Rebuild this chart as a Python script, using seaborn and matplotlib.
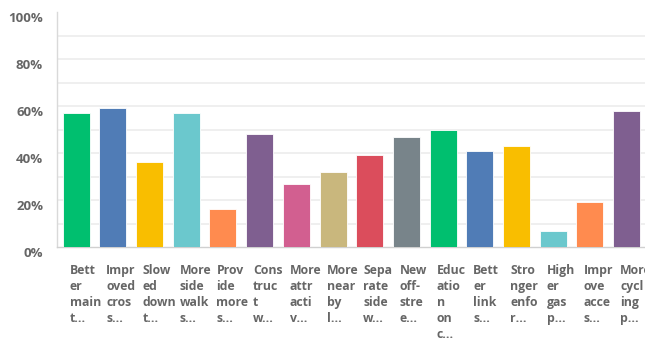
import matplotlib
matplotlib.use("Agg")
import matplotlib.pyplot as plt
import matplotlib.transforms as mtransforms
import seaborn as sns
import pandas as pd

categories = [
    "Better maint", "Improved cross", "Slowed down t", "More sidewalks",
    "Provide more s", "Construct w", "More attractiv", "More nearby l",
    "Separate side w", "New off-street", "Education on c", "Better links",
    "Stronger enfor", "Higher gas p", "Improve access", "More cycling p",
]
tick_labels = [
    "Bett\ner\nmain\nt...", "Impr\noved\ncros\ns...", "Slow\ned\ndown\nt...",
    "More\nside\nwalk\ns...", "Prov\nide\nmore\ns...", "Cons\ntruc\nt\nw...",
    "More\nattr\nacti\nv...", "More\nnear\nby\nl...", "Sepa\nrate\nside\nw...",
    "New\noff-\nstre\ne...", "Educ\natio\nn\non\nc...", "Bett\ner\nlink\ns...",
    "Stro\nnger\nenfo\nr...", "High\ner\ngas\np...", "Impr\nove\nacce\ns...",
    "More\ncycl\ning\np...",
]
values = [57, 59, 36, 57, 16, 48, 27, 32, 39, 47, 50, 41, 43, 7, 19, 58]
colors = ["#00BF6F", "#507CB6", "#F9BE00", "#6BC8CD", "#FF8B4F", "#7F5F90",
          "#D25F90", "#C9B77D", "#DB4D5C", "#78848A", "#00BF6F", "#507CB6",
          "#F9BE00", "#6BC8CD", "#FF8B4F", "#7F5F90"]
y_ticks = [0, 20, 40, 60, 80, 100]
y_tick_labels = ["0%", "20%", "40%", "60%", "80%", "100%"]

sns.set_style("white")
plt.rcParams["font.family"] = ["Open Sans", "DejaVu Sans"]

fig = plt.figure(figsize=(6.45, 3.42), dpi=100)
ax = fig.add_axes([57 / 645, (342 - 247) / 342, 1 - 57 / 645, (247 - 12) / 342])

df = pd.DataFrame({"cat": categories, "val": values})
sns.barplot(data=df, x="cat", y="val", hue="cat", palette=colors, legend=False,
            saturation=1, width=0.735, ax=ax, edgecolor="white", linewidth=0.6,
            zorder=3)

ax.set_xlim(-0.52, 15.5)
ax.set_ylim(0, 100)
ax.set_yticks(y_ticks)
ax.set_yticklabels(y_tick_labels, fontsize=9.5, fontweight="bold", color="#666666")
ax.set_yticks(range(10, 100, 10), minor=True)
for lab in ax.get_yticklabels():
    lab.set_verticalalignment("top")
ax.tick_params(axis="y", which="both", length=0, pad=10)
ax.grid(False)
for yv in range(10, 100, 10):
    ax.axhline(yv, color="#ececec", linewidth=1.2, zorder=0)

ax.set_xticks(range(len(categories)))
ax.set_xticklabels(tick_labels, fontsize=8.8, fontweight="bold", color="#666666",
                   ha="left", va="top", linespacing=1.3)
ax.tick_params(axis="x", length=0, pad=12)
offset = mtransforms.ScaledTranslation(-6.5 / 100, 0, fig.dpi_scale_trans)
for lab in ax.get_xticklabels():
    lab.set_transform(lab.get_transform() + offset)

ax.set_xlabel("")
ax.set_ylabel("")
for s in ["top", "right"]:
    ax.spines[s].set_visible(False)
ax.spines["left"].set_color("#d9d9d9")
ax.spines["bottom"].set_color("#d0d0d0")
ax.spines["left"].set_linewidth(1.0)
ax.spines["bottom"].set_linewidth(1.0)

fig.savefig("out.png", dpi=100)
